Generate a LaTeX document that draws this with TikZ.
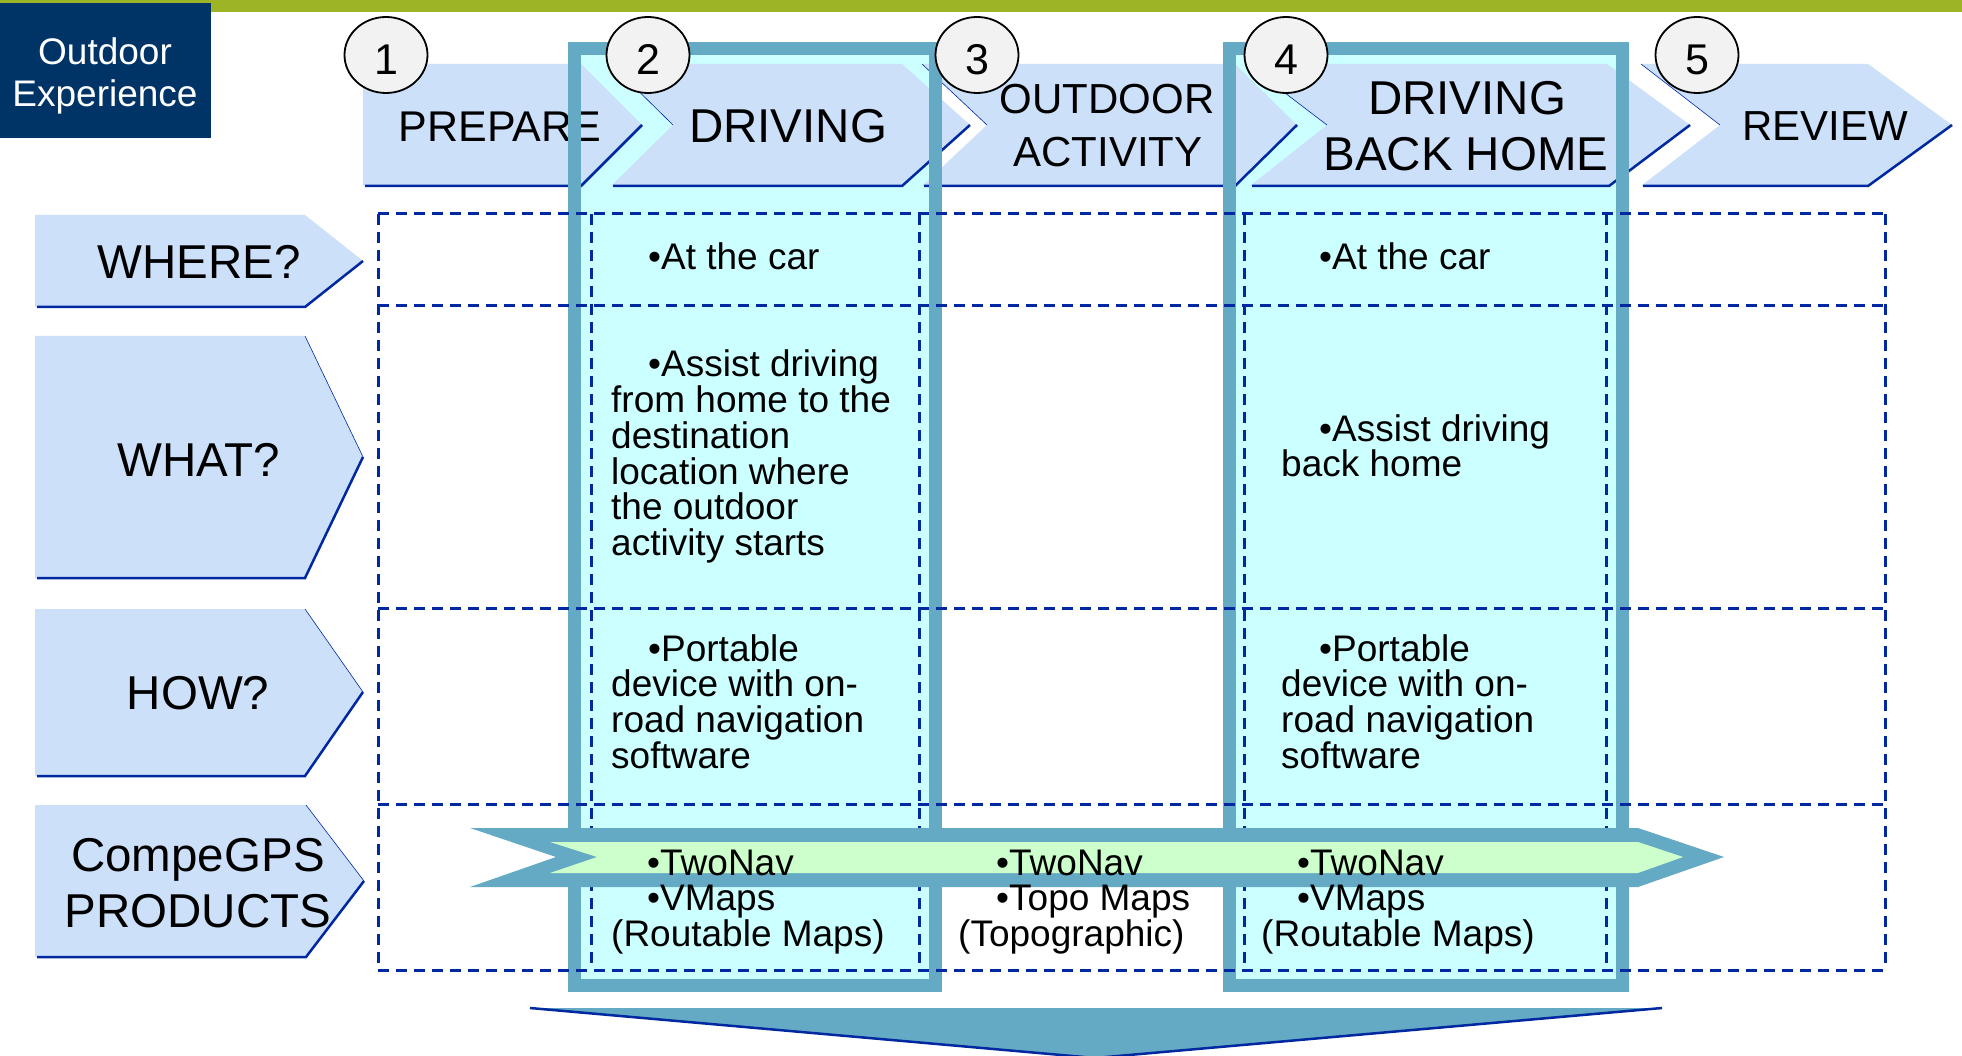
\documentclass[tikz,border=0pt]{standalone}
\usepackage{fontspec}
\setmainfont{Liberation Sans}
\usetikzlibrary{shapes.geometric}
\definecolor{navybox}{RGB}{0,51,102}
\definecolor{topgreen}{RGB}{156,180,38}
\definecolor{chevfill}{RGB}{204,224,250}
\definecolor{edgeblue}{RGB}{0,40,160}
\definecolor{steel}{RGB}{100,170,196}
\definecolor{paleCyan}{RGB}{204,255,255}
\definecolor{paleGreen}{RGB}{204,255,204}
\definecolor{circgray}{RGB}{242,242,242}
\newcommand\myfs[1]{\fontsize{#1}{#1}\selectfont}
\newcommand\blk[1]{\vtop{\baselineskip=35.7pt\lineskiplimit=-100pt\lineskip=0pt #1}}
\tikzset{
  chev/.style={fill=chevfill},
  darkline/.style={draw=edgeblue, line width=2.5pt},
  thinline/.style={draw=edgeblue, line width=0.6pt},
  gridline/.style={draw=edgeblue, line width=3pt, dash pattern=on 11pt off 7pt},
  numcirc/.style={ellipse, draw=black, fill=circgray, line width=1.8pt, minimum width=83pt, minimum height=76pt, inner sep=0pt},
  numtxt/.style={anchor=base, inner sep=0pt, font=\myfs{43}},
  hdr/.style={anchor=base, inner sep=0pt},
  cell/.style={anchor=base west, inner sep=0pt, font=\myfs{37}},
  framebd/.style={draw=steel, line width=13pt},
}
\begin{document}
\begin{tikzpicture}[x=1pt,y=-1pt]
\useasboundingbox (0,0) rectangle (1962,1056);
\fill[white] (0,0) rectangle (1962,1056);
% top green bar
\fill[topgreen] (0,0) rectangle (1962,12);
% dark box
\fill[navybox] (0,3) rectangle (211,138);
\node[hdr, text=white, font=\myfs{37}] (oe1) at (105,65) {Outdoor};
\node[hdr, text=white, font=\myfs{37}] (oe2) at (105,107) {Experience};
% frame fills
\fill[paleCyan] (568,42) rectangle (942,992);
\fill[paleCyan] (1223,42) rectangle (1629,992);
% header chevrons
\fill[chev] (363,64) -- (581,64) -- (642,125) -- (581,186) -- (363,186) -- cycle;
\draw[darkline] (365,186) -- (581,186) -- (642,125);
\fill[chev] (611,64) -- (902,64) -- (970,125) -- (902,186) -- (611,186) -- (673,125) -- cycle;
\draw[darkline] (613,186) -- (902,186) -- (970,125);
\draw[thinline] (611,64) -- (673,125);
\fill[chev] (922,64) -- (1235,64) -- (1297,125) -- (1235,186) -- (922,186) -- (987,125) -- cycle;
\draw[darkline] (924,186) -- (1235,186) -- (1297,125);
\draw[thinline] (922,64) -- (987,125);
\fill[chev] (1247,64) -- (1607,64) -- (1690,125) -- (1609,186) -- (1250,186) -- (1327,125) -- cycle;
\draw[darkline] (1252,186) -- (1609,186) -- (1690,125);
\draw[thinline] (1247,64) -- (1327,125);
\fill[chev] (1641,64) -- (1868,64) -- (1952,125) -- (1868,186) -- (1641,186) -- (1720,125) -- cycle;
\draw[darkline] (1643,186) -- (1868,186) -- (1952,125);
\draw[thinline] (1641,64) -- (1720,125);
% header texts
\node[hdr, font=\myfs{43}] (hprep) at (500,142) {PREPARE};
\node[hdr, font=\myfs{47.5}] (hdrv) at (788,143) {DRIVING};
\node[hdr, font=\myfs{42}] (hout1) at (1107,114) {OUTDOOR};
\node[hdr, font=\myfs{42}] (hout2) at (1108,167) {ACTIVITY};
\node[hdr, font=\myfs{47.5}] (hdbh1) at (1467,115) {DRIVING};
\node[hdr, font=\myfs{47.5}] (hdbh2) at (1466,171) {BACK HOME};
\node[hdr, font=\myfs{42}] (hrev) at (1825,141) {REVIEW};
% row labels
\fill[chev] (35,215) -- (305,215) -- (363,261) -- (305,307) -- (35,307) -- cycle;
\draw[darkline] (37,307) -- (305,307) -- (363,261);
\fill[chev] (35,336) -- (305,336) -- (363,457) -- (305,578) -- (35,578) -- cycle;
\draw[darkline] (37,578) -- (305,578) -- (363,457);
\draw[thinline] (305,336) -- (363,457);
\fill[chev] (35,609) -- (305,609) -- (363,692) -- (305,776) -- (35,776) -- cycle;
\draw[darkline] (37,776) -- (305,776) -- (363,692);
\draw[thinline] (305,609) -- (363,692);
\fill[chev] (35,805) -- (306,805) -- (364,881) -- (306,957) -- (35,957) -- cycle;
\draw[darkline] (37,957) -- (306,957) -- (364,881);
\draw[thinline] (306,805) -- (364,881);
\node[hdr, font=\myfs{47.5}] (lwhere) at (199,279) {WHERE?};
\node[hdr, font=\myfs{47.5}] (lwhat) at (199,476) {WHAT?};
\node[hdr, font=\myfs{47.5}] (lhow) at (198,709) {HOW?};
\node[hdr, font=\myfs{47.5}] (lprod1) at (198,871) {CompeGPS};
\node[hdr, font=\myfs{47.5}] (lprod2) at (198,927) {PRODUCTS};
% frame borders
\draw[framebd] (574.5,48.5) rectangle (935.5,985.5);
\draw[framebd] (1229.5,48.5) rectangle (1622.5,985.5);
% dashed grid
\foreach \x in {378,591,919,1244,1606,1885} \draw[gridline] (\x,214) -- (\x,970);
\foreach \y in {214,306,608,804,970} \draw[gridline] (378,\y) -- (1885,\y);
% number circles
\node[numcirc] (c1) at (386,55) {};
\node[numcirc] (c2) at (648,55) {};
\node[numcirc] (c3) at (977,55) {};
\node[numcirc] (c4) at (1286,55) {};
\node[numcirc] (c5) at (1697,55) {};
\node[numtxt] (n1) at (386,75) {1};
\node[numtxt] (n2) at (648,75) {2};
\node[numtxt] (n3) at (977,75) {3};
\node[numtxt] (n4) at (1286,75) {4};
\node[numtxt] (n5) at (1697,75) {5};
% green arrow
\fill[steel] (470,828) -- (1638,828) -- (1724,857) -- (1638,887) -- (470,887) -- (556,857) -- cycle;
\fill[paleGreen] (550,842) -- (1638,842) -- (1683,857) -- (1638,873) -- (550,873) -- (597,857) -- cycle;
% bottom arrow
\fill[steel] (530,1008) -- (1662,1008) -- (1095,1058) -- cycle;
\draw[darkline] (530,1008) -- (1095,1058) -- (1662,1008);
% cell texts
\node[cell] (d1) at (648,270) {•At the car};
\node[cell] (d2) at (611,377) {\blk{\hbox{\kern37pt•Assist driving}\hbox{from home to the}\hbox{destination}\hbox{location where}\hbox{the outdoor}\hbox{activity starts}}};
\node[cell] (d3) at (611,661) {\blk{\hbox{\kern37pt•Portable}\hbox{device with on-}\hbox{road navigation}\hbox{software}}};
\node[cell] (d4) at (611,875) {\blk{\hbox{\kern36pt•TwoNav}\hbox{\kern36pt•VMaps}\hbox{(Routable Maps)}}};
\node[cell] (o4) at (958,875) {\blk{\hbox{\kern38pt•TwoNav}\hbox{\kern38pt•Topo Maps}\hbox{(Topographic)}}};
\node[cell] (b1) at (1319,270) {•At the car};
\node[cell] (b2) at (1281,441) {\blk{\hbox{\kern38pt•Assist driving}\hbox{back home}}};
\node[cell] (b3) at (1281,661) {\blk{\hbox{\kern38pt•Portable}\hbox{device with on-}\hbox{road navigation}\hbox{software}}};
\node[cell] (b4) at (1261,875) {\blk{\hbox{\kern36pt•TwoNav}\hbox{\kern36pt•VMaps}\hbox{(Routable Maps)}}};
\end{tikzpicture}
\end{document}
